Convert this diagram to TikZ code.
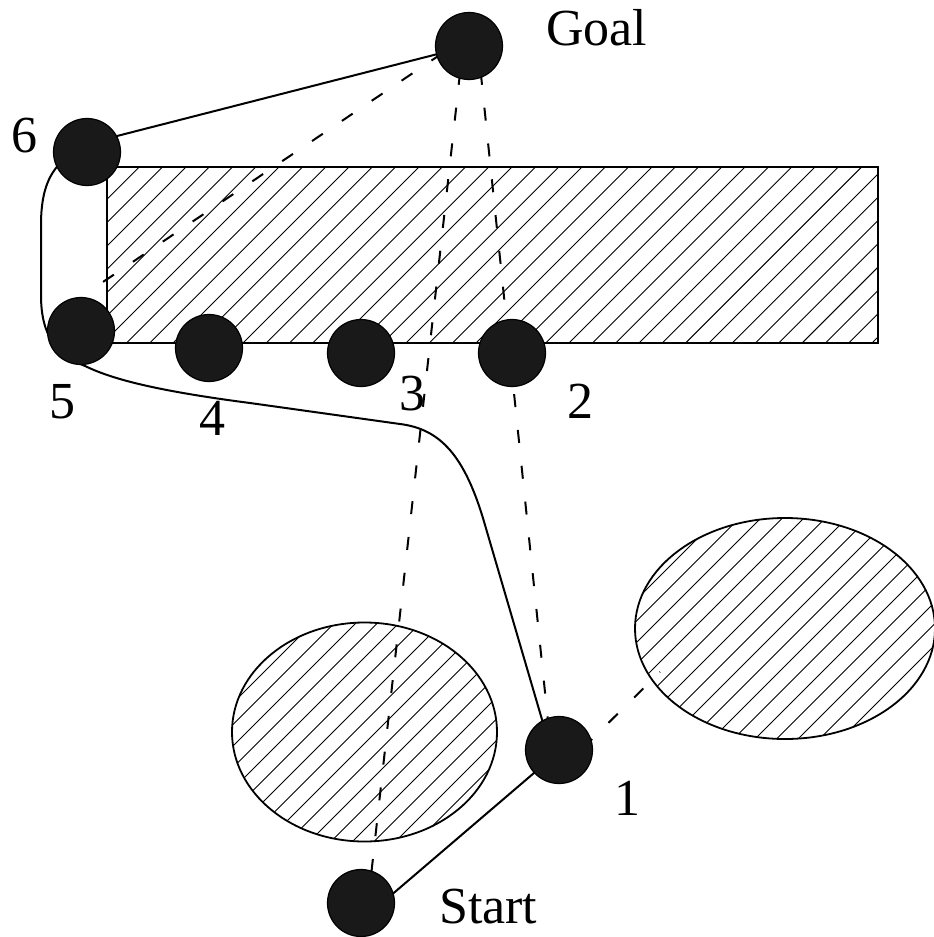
\documentclass[tikz,border=0pt]{standalone}
\usepackage{fontspec}
\setmainfont{Liberation Serif}
\usetikzlibrary{calc,backgrounds}
\begin{document}
\begin{tikzpicture}[x=1pt,y=-1pt,
  vertex/.style={circle,draw=black,line width=1.2pt,fill=black!90,minimum size=67pt,inner sep=0pt},
  lab/.style={font=\fontsize{52}{62}\selectfont,inner sep=0pt,anchor=base},
  obstacle/.style={draw=black,line width=1.8pt},
  hatch/.style={line width=0.9pt,black},
  solidpath/.style={line width=2pt,line join=round},
  vispath/.style={line width=2pt,dash pattern=on 13pt off 23pt},
]
\useasboundingbox (0,0) rectangle (934,937);

% vertices
\node[vertex] (goal)  at (469,46)  {};
\node[vertex] (n6)    at (87,152)  {};
\node[vertex] (n5)    at (81,331)  {};
\node[vertex] (n4)    at (209,348) {};
\node[vertex] (n3)    at (361,353) {};
\node[vertex] (n2)    at (512,353) {};
\node[vertex] (n1)    at (559,750) {};
\node[vertex] (start) at (361,903) {};

% labels
\node[lab,anchor=base west] (lgoal)  at (546,45)  {Goal};
\node[lab,anchor=base west] (lstart) at (439,923) {Start};
\node[lab] (l6) at (24,152)  {6};
\node[lab] (l5) at (62,418)  {5};
\node[lab] (l4) at (212,435) {4};
\node[lab] (l3) at (412,410) {3};
\node[lab] (l2) at (580,418) {2};
\node[lab] (l1) at (627,815) {1};

\coordinate (g5end) at (97,286);
\coordinate (e1end) at (660,672);

\begin{pgfonlayer}{background}
  % rectangle obstacle
  \begin{scope}
    \clip (107,167) rectangle (878,343);
    \foreach \k in {0,...,42}
      \draw[hatch] ({259.7+23.3*\k},0) -- ({259.7+23.3*\k-1000},1000);
  \end{scope}
  \draw[obstacle] (107,167) rectangle (878,343);

  % left ellipse obstacle
  \begin{scope}
    \clip (364.5,732) ellipse [x radius=132.5pt, y radius=109.5pt];
    \foreach \k in {0,...,24}
      \draw[hatch] ({850+21.5*\k},0) -- ({850+21.5*\k-1000},1000);
  \end{scope}
  \draw[obstacle] (364.5,732) ellipse [x radius=132.5pt, y radius=109.5pt];

  % right ellipse obstacle
  \begin{scope}
    \clip (785,628.5) ellipse [x radius=150pt, y radius=110.5pt];
    \foreach \k in {0,...,26}
      \draw[hatch] ({1150+21.5*\k},0) -- ({1150+21.5*\k-1000},1000);
  \end{scope}
  \draw[obstacle] (785,628.5) ellipse [x radius=150pt, y radius=110.5pt];

  % dashed visibility lines
  \draw[vispath,dash phase=10pt] ($(goal.center)+(-6,0)$) -- ($(start.center)+(7,0)$);
  \draw[vispath,dash phase=10pt] ($(goal.center)+(9,0)$) -- ($(n1.center)+(-8,0)$);
  \draw[vispath,dash phase=23pt] ($(goal.center)+(-16,0)$) -- (g5end);
  \draw[vispath,dash phase=3pt] ($(n1.center)+(26,-4)$) -- (e1end);

  % solid path
  \draw[solidpath] ($(start.center)+(14,6)$) -- ($(n1.center)+(-11,11)$);
  \draw[solidpath] ($(n1.center)+(-11,-10)$) -- (485,525)
      .. controls (465,455) and (440,429) .. (400,424)
      -- (250,403)
      .. controls (150,390) and (110,378) .. (85,366)
      .. controls (58,355) and (41,338) .. (41,295)
      -- (41,225)
      .. controls (41,170) and (62,150) .. (117,136)
      -- (goal.center);
\end{pgfonlayer}
\end{tikzpicture}
\end{document}
